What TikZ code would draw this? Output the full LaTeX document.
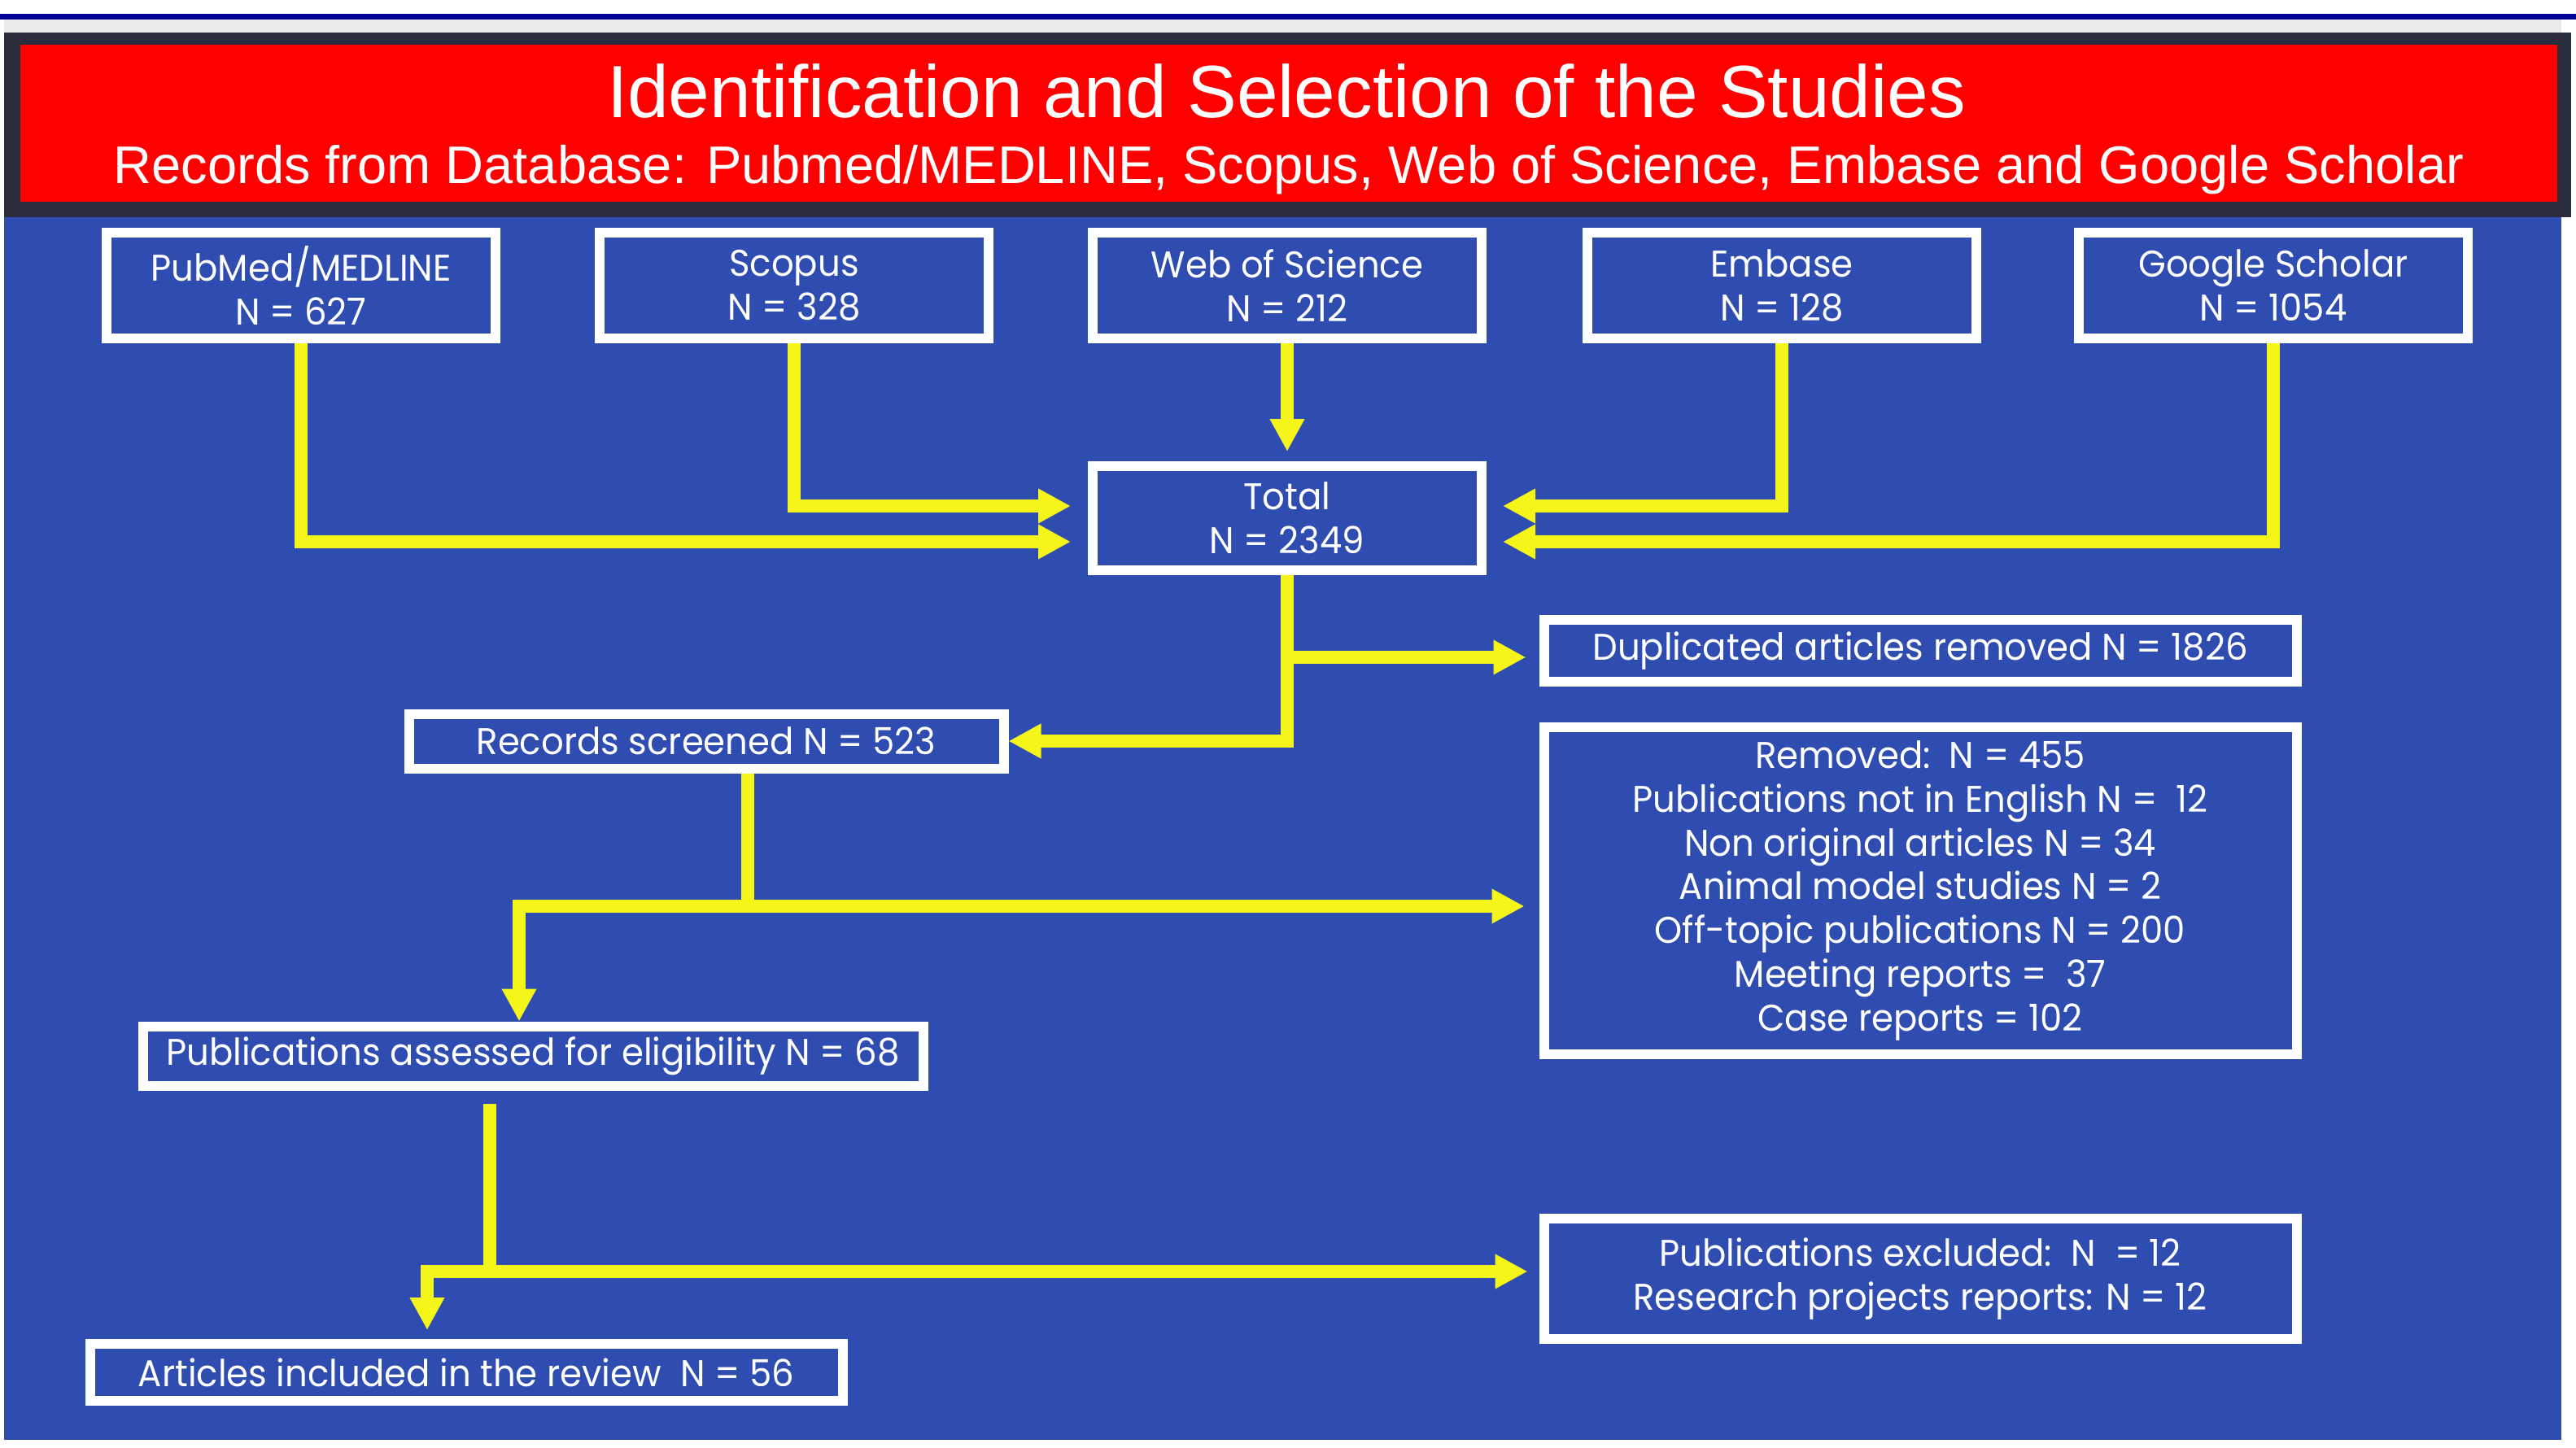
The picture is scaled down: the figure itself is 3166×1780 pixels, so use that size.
\documentclass[tikz,border=0pt]{standalone}
\usepackage{fontspec}
\setmainfont{Liberation Sans}
\newfontfamily\boxfont[FakeStretch=0.95]{Poppins}
\usepackage{tikz}
\usetikzlibrary{positioning,arrows.meta,calc}
\definecolor{panelblue}{RGB}{47,76,176}
\definecolor{headred}{RGB}{255,0,0}
\definecolor{headdark}{RGB}{42,46,60}
\definecolor{framenavy}{RGB}{0,0,150}
\definecolor{flowyellow}{RGB}{245,245,25}
\def\topw{47.8mm}
\def\toph{13mm}
\def\sidew{92.5mm}

\begin{document}
\begin{tikzpicture}[x=0.1mm, y=-0.1mm,
	dbbox/.style={draw=white, line width=1.2mm, fill=panelblue, text=white, align=center, inner sep=0pt,
		font=\boxfont\fontsize{13}{15.3}\selectfont},
	link/.style={draw=flowyellow, line width=1.6mm},
	arr/.style={link, -{Triangle[length=4mm,width=4mm]}},
	twoarr/.style={link, {Triangle[length=4mm,width=4mm]}-{Triangle[length=4mm,width=4mm]}}]
	\useasboundingbox (0,0) rectangle (3166,1780);
	%\draw[step=100, black!20!white] (0,0) grid (3166,1780);
	\fill[framenavy] (0,17) rectangle (3166,24);
	\fill[panelblue] (5,24) rectangle (3148,1770);
	\fill[black!8] (5,24) rectangle (3148,40);
	\fill[headdark] (5,40) rectangle (3160,267);
	\fill[headred] (25,55) rectangle (3143,248);
	\node[text=white, anchor=base, font=\fontsize{25.9}{30}\selectfont] (title) at (1581,145) {Identification and Selection of the Studies};
	\node[text=white, anchor=base, font=\fontsize{18.5}{22}\selectfont] (subtitle) at (1584,226) {Records from Database: Pubmed/MEDLINE, Scopus, Web of Science, Embase and Google Scholar};

	\node[dbbox, minimum width=\topw, minimum height=\toph] (pub) at (370,351) {PubMed/MEDLINE\\N = 627};
	\node[dbbox, minimum width=\topw, minimum height=\toph] (scopus) at (976,351) {Scopus\\N = 328};
	\node[dbbox, minimum width=\topw, minimum height=\toph] (wos) at (1582,351) {Web of Science\\N = 212};
	\node[dbbox, minimum width=\topw, minimum height=\toph] (emb) at (2190,351) {Embase\\N = 128};
	\node[dbbox, minimum width=\topw, minimum height=\toph] (gs) at (2794,351) {Google Scholar\\N = 1054};
	\node[dbbox, minimum width=\topw, minimum height=12.8mm] (total) at (1582,637) {Total\\N = 2349};
	\node[dbbox, minimum width=\sidew, minimum height=7.6mm] (dup) at (2360,800) {Duplicated articles removed N = 1826};
	\node[dbbox, minimum width=73.1mm, minimum height=6.7mm] (rec) at (868,911) {Records screened N = 523};
	\node[dbbox, minimum width=\sidew, minimum height=40.2mm] (rem) at (2360,1095) {Removed:~~N = 455\\Publications not in English N =~~12\\Non original articles N = 34\\Animal model studies N = 2\\Off-topic publications N = 200\\Meeting reports =~~37\\Case reports = 102};
	\node[dbbox, minimum width=95.9mm, minimum height=7.3mm] (elig) at (655,1298) {Publications assessed for eligibility N = 68};
	\node[dbbox, minimum width=\sidew, minimum height=14.8mm] (excl) at (2360,1572) {Publications excluded:~~N~~= 12\\Research projects reports: N = 12};
	\node[dbbox, minimum width=\sidew, minimum height=7mm] (incl) at (573,1687) {Articles included in the review~~N = 56};

	% databases into total
	\draw[arr, shorten >=2.1mm] (pub.south) |- ($(total.west)+(0,29)$);
	\draw[arr, shorten >=2.1mm] (scopus.south) |- ($(total.west)+(0,-15)$);
	\draw[arr, shorten >=1.2mm] (wos) -- (total);
	\draw[arr, shorten >=2mm] (emb.south) |- ($(total.east)+(0,-15)$);
	\draw[arr, shorten >=2mm] (gs.south) |- ($(total.east)+(0,29)$);

	% screening
	\draw[arr] (total.south) |- (rec.east);
	\draw[arr, shorten >=1.6mm] ($(total.south |- dup.west)+(0,8)$) -- ($(dup.west)+(0,8)$);
	\coordinate (rsplit) at (919,1114);
	\coordinate (rturn) at (638,1114);
	\draw[link] ($(rec.south)+(51,0)$) -- (rsplit);
	\draw[twoarr, shorten <=1.8mm] (rturn -| rem.west) -- (rturn) -- (rturn |- elig.north);

	% eligibility
	\coordinate (esplit) at (602,1563);
	\coordinate (eturn) at (525,1563);
	\draw[link] ($(elig.south)+(-53,16)$) -- (esplit);
	\draw[twoarr, shorten <=1.4mm, shorten >=1.1mm] (eturn -| excl.west) -- (eturn) -- (eturn |- incl.north);
\end{tikzpicture}
\end{document}
